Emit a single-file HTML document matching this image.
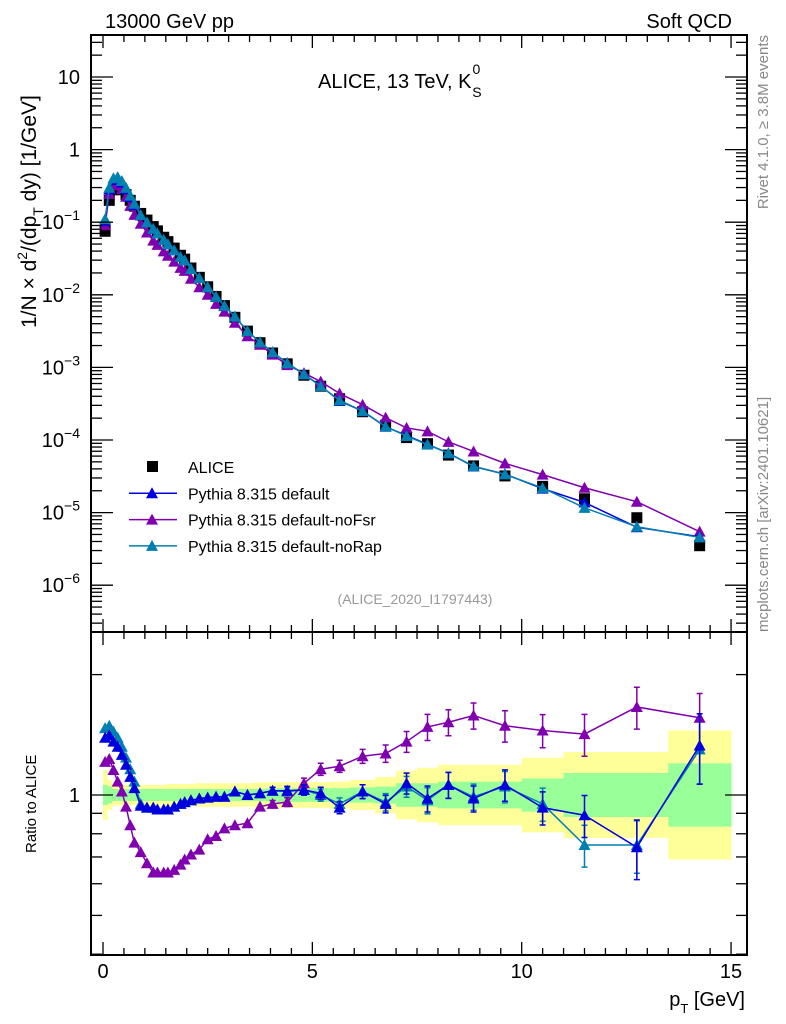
<!DOCTYPE html>
<html><head><meta charset="utf-8"><style>
html,body{margin:0;padding:0;background:#fff;}
svg{display:block;font-family:"Liberation Sans",Arial,sans-serif;}
</style></head><body>
<svg id="chart" width="786" height="1024" viewBox="0 0 786 1024">
<text x="105" y="28" font-size="20">13000 GeV pp</text>
<text x="732" y="28" font-size="20" text-anchor="end">Soft QCD</text>
<text x="318" y="88" font-size="20">ALICE, 13 TeV, K<tspan font-size="14" dx="1" dy="-14">0</tspan><tspan font-size="14" dx="-8" dy="23">S</tspan></text>
<text x="415" y="604" font-size="14" fill="#999" text-anchor="middle">(ALICE_2020_I1797443)</text>
<text transform="translate(768,35) rotate(-90)" font-size="15" fill="#888" text-anchor="end">Rivet 4.1.0, ≥ 3.8M events</text>
<text transform="translate(768,632) rotate(-90)" font-size="15" fill="#888">mcplots.cern.ch [arXiv:2401.10621]</text>
<text transform="translate(36,328) rotate(-90)" font-size="21">1/N × d<tspan font-size="14" dy="-9">2</tspan><tspan dy="9">/(dp</tspan><tspan font-size="14" dy="7">T</tspan><tspan dy="-7"> dy) [1/GeV]</tspan></text>
<text transform="translate(36,853) rotate(-90)" font-size="15">Ratio to ALICE</text>
<text x="745" y="1006" font-size="20" text-anchor="end">p<tspan font-size="13" dy="7">T</tspan><tspan dy="-7"> [GeV]</tspan></text>
<g id="g"></g>
</svg>
<script>
const pT=[0.05,0.15,0.25,0.35,0.45,0.55,0.65,0.75,0.9,1.05,1.2,1.3,1.45,1.55,1.7,1.85,1.95,2.1,2.3,2.5,2.7,2.9,3.15,3.45,3.75,4.05,4.4,4.8,5.2,5.65,6.2,6.75,7.25,7.75,8.25,8.85,9.6,10.5,11.5,12.75,14.25];
const binEdges=[0,0.1,0.2,0.3,0.4,0.5,0.6,0.7,0.8,1.0,1.1,1.25,1.4,1.5,1.6,1.8,1.9,2.0,2.2,2.4,2.6,2.8,3.0,3.3,3.6,3.9,4.2,4.6,5.0,5.4,5.9,6.5,7.0,7.5,8.0,8.5,9.2,10.0,11.0,12.0,13.5,15.0];
const dataVals=[0.075,0.2,0.28,0.30,0.28,0.24,0.20,0.166,0.132,0.107,0.087,0.076,0.062,0.054,0.044,0.035,0.031,0.0234,0.0174,0.0129,0.0095,0.0071,0.0049,0.00316,0.00219,0.00158,0.00112,0.00078,0.00055,0.00037,0.000245,0.00016,0.000108,0.000089,0.000062,0.000044,0.000032,0.000023,0.0000155,0.0000085,0.0000035];
const ratioDefault=[1.39,1.41,1.36,1.32,1.26,1.19,1.11,1.04,0.94,0.93,0.93,0.92,0.92,0.92,0.935,0.95,0.96,0.97,0.98,0.985,0.99,0.99,1.02,1.0,1.01,1.025,1.025,1.03,1.01,0.93,1.02,0.95,1.07,0.98,1.06,0.98,1.06,0.93,0.89,0.74,1.33];
const ratioNoFsr=[1.21,1.23,1.155,1.08,1.02,0.935,0.84,0.76,0.72,0.675,0.64,0.64,0.64,0.64,0.65,0.67,0.69,0.71,0.73,0.775,0.79,0.825,0.84,0.85,0.935,0.95,0.96,1.07,1.16,1.18,1.25,1.27,1.36,1.48,1.52,1.58,1.49,1.45,1.42,1.66,1.56];
const ratioNoRap=[1.47,1.49,1.44,1.39,1.32,1.24,1.16,1.08,0.95,0.93,0.93,0.92,0.92,0.92,0.935,0.95,0.96,0.97,0.98,0.985,0.99,0.99,1.02,1.0,1.01,1.025,1.02,1.03,1.0,0.95,1.02,0.96,1.05,0.97,1.06,0.99,1.05,0.95,0.75,0.75,1.3];
const errNoFsr=[0,0,0,0,0,0,0,0,0,0,0,0,0,0,0,0,0,0,0,0,0,0,0,0,0,0.02,0.025,0.03,0.035,0.035,0.04,0.05,0.06,0.075,0.075,0.075,0.09,0.095,0.12,0.12,0.15];
const errDefault=[0,0,0,0,0,0,0,0,0,0,0,0,0,0,0,0,0,0,0,0,0,0,0,0,0,0.02,0.025,0.03,0.035,0.035,0.04,0.05,0.06,0.075,0.075,0.075,0.09,0.095,0.12,0.17,0.2];
const errNoRap=[0,0,0,0,0,0,0,0,0,0,0,0,0,0,0,0,0,0,0,0,0,0,0,0,0,0.02,0.025,0.03,0.035,0.035,0.04,0.05,0.06,0.075,0.075,0.075,0.09,0.095,0.12,0.15,0.18];
const bandGreen=[0.06,0.05,0.035,0.035,0.035,0.035,0.035,0.035,0.035,0.035,0.035,0.035,0.035,0.035,0.035,0.035,0.035,0.035,0.035,0.035,0.035,0.035,0.035,0.035,0.035,0.04,0.04,0.04,0.04,0.04,0.045,0.05,0.07,0.07,0.08,0.08,0.08,0.10,0.135,0.135,0.2];
const bandYellow=[0.155,0.09,0.065,0.06,0.06,0.06,0.06,0.06,0.06,0.06,0.06,0.06,0.06,0.065,0.065,0.065,0.065,0.065,0.07,0.07,0.07,0.07,0.07,0.07,0.075,0.077,0.077,0.077,0.077,0.08,0.09,0.11,0.15,0.17,0.19,0.19,0.19,0.24,0.28,0.28,0.45];
const xTickLabels=["0","5","10","15"];
const yMainExps=[1,0,-1,-2,-3,-4,-5,-6];

const NS="http://www.w3.org/2000/svg";
const g=document.getElementById('g');
const L=91,R=747,MT=35,MB=632,RT=632,RB=955;
const X=v=>103+v*41.87;
const Y=v=>77+(1-Math.log10(v))*72.6;
const YR=r=>795-Math.log10(r)*400;
function el(tag,attrs,parent){const e=document.createElementNS(NS,tag);for(const k in attrs)e.setAttribute(k,attrs[k]);(parent||g).appendChild(e);return e;}
const clipM=el('clipPath',{id:'cm'});el('rect',{x:L,y:MT,width:R-L,height:MB-MT},clipM);
const clipR=el('clipPath',{id:'cr'});el('rect',{x:L,y:RT,width:R-L,height:RB-RT},clipR);

const bands=el('g',{'clip-path':'url(#cr)'});


[[bandYellow,'#ffff99'],[bandGreen,'#99ff99']].forEach(([arr,c])=>{
  arr.forEach((d,i)=>{
    const px=400*Math.log10(1+d);
    const r=el('rect',{x:X(binEdges[i]),y:795-px,width:X(binEdges[i+1])-X(binEdges[i])+0.5,height:2*px,fill:c},bands);
    
    
  });
});

function tri(x,y,c,parent){const t=el('polygon',{points:`${x-6},${y+5} ${x+6},${y+5} ${x},${y-6}`,fill:c},parent);return t;}

const mainG=el('g',{'clip-path':'url(#cm)'});


pT.forEach((p,i)=>{const s=el('rect',{x:X(p)-5.5,y:Y(dataVals[i])-5.5,width:11,height:11,fill:'#000'},mainG);
 
 });
const series=[[ratioNoFsr,errNoFsr,'#8000b0','nofsr'],[ratioDefault,errDefault,'#0000dd','default'],[ratioNoRap,errNoRap,'#0080b0','norap']];
series.forEach(([rat,err,c,nm])=>{
  const pts=pT.map((p,i)=>X(p)+','+Y(dataVals[i]*rat[i])).join(' ');
  const l=el('polyline',{points:pts,fill:'none',stroke:c,'stroke-width':1.5},mainG);
  
  
  pT.forEach((p,i)=>{const t=tri(X(p),Y(dataVals[i]*rat[i]),c,mainG);
    
    });
});
const ratG=el('g',{'clip-path':'url(#cr)'});


[[ratioNoRap,errNoRap,'#0080b0','norap'],[ratioNoFsr,errNoFsr,'#8000b0','nofsr'],[ratioDefault,errDefault,'#0000dd','default']].forEach(([rat,err,c,nm])=>{
  const pts=pT.map((p,i)=>X(p)+','+YR(rat[i])).join(' ');
  const l=el('polyline',{points:pts,fill:'none',stroke:c,'stroke-width':1.5},ratG);
  
  
  pT.forEach((p,i)=>{
    if(err[i]>0){const x=X(p),y1=YR(rat[i]*(1+err[i])),y2=YR(rat[i]*(1-err[i]));
      const e=el('path',{d:`M${x},${y1}V${y2}M${x-3},${y1}H${x+3}M${x-3},${y2}H${x+3}`,stroke:c,'stroke-width':1.5,fill:'none'},ratG);
      
      }
    const t=tri(X(p),YR(rat[i]),c,ratG);
    
    
  });
});

[[MT,MB],[RT,RB]].forEach(([t,b],k)=>{
  const f=el('rect',{x:L,y:t,width:R-L,height:b-t,fill:'none',stroke:'#000','stroke-width':2});
  
  
  for(let v=0;v<=15.01;v+=0.5){const x=X(v);const len=(Math.abs(v%5)<0.01)?13:7;
    el('line',{x1:x,x2:x,y1:b,y2:b-len,stroke:'#000','stroke-width':1.3});
    el('line',{x1:x,x2:x,y1:t,y2:t+len,stroke:'#000','stroke-width':1.3});}
});
xTickLabels.forEach((s,i)=>{const tx=el('text',{x:X(i*5),y:978,'font-size':20,'text-anchor':'middle'});tx.textContent=s;
  
  });
for(let e=-7;e<=1;e++){for(let m=1;m<10;m++){const y=Y(m*Math.pow(10,e));if(y<MT||y>MB)continue;const len=m==1?22:11;
  el('line',{x1:L,x2:L+len,y1:y,y2:y,stroke:'#000','stroke-width':1.3});el('line',{x1:R,x2:R-len,y1:y,y2:y,stroke:'#000','stroke-width':1.3});}}
yMainExps.forEach(e=>{const y=Y(Math.pow(10,e))+7;const t=el('text',{x:80,y:y,'font-size':20,'text-anchor':'end'});
  t.textContent=e==1?'10':e==0?'1':'10';
  if(e<0){const s=el('tspan',{'font-size':14,dy:-9},t);s.textContent='−'+(-e);}
  
  });
[0.4,0.5,0.6,0.7,0.8,0.9,1,2].forEach(r=>{const y=YR(r);const len=(r==1)?22:11;
  el('line',{x1:L,x2:L+len,y1:y,y2:y,stroke:'#000','stroke-width':1.3});el('line',{x1:R,x2:R-len,y1:y,y2:y,stroke:'#000','stroke-width':1.3});});
const r1=el('text',{x:80,y:802,'font-size':20,'text-anchor':'end'});r1.textContent='1';



const leg=el('g',{});


const legNames=['ALICE','Pythia 8.315 default','Pythia 8.315 default-noFsr','Pythia 8.315 default-noRap'];
const legCols=['#000','#0000dd','#8000b0','#0080b0'];
legNames.forEach((n,i)=>{const y=467+i*26.3;
  const e=el('g',{},leg);
  
  
  if(i==0){el('rect',{x:147,y:y-6,width:11,height:11,fill:'#000'},e);}
  else{el('line',{x1:129,x2:177,y1:y,y2:y,stroke:legCols[i],'stroke-width':1.5},e);tri(152,y,legCols[i],e);}
  const t=el('text',{x:188,y:y+6,'font-size':16},e);t.textContent=n;});
</script>
</body></html>
